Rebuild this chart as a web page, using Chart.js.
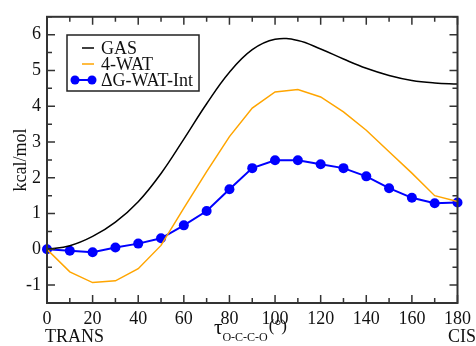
<!DOCTYPE html>
<html><head><meta charset="utf-8">
<script src="https://cdn.jsdelivr.net/npm/chart.js@4/dist/chart.umd.min.js"></script>
<style>html,body{margin:0;padding:0;background:#fff}#wrap{width:476px;height:346px}</style>
</head><body><div id="wrap"><canvas id="c" width="476" height="346"></canvas></div>
<script>
const angles = [0,10,20,30,40,50,60,70,80,90,100,110,120,130,140,150,160,170,180];
const gas    = [0,0.1,0.36,0.76,1.33,2.12,3.08,4.07,4.95,5.58,5.87,5.84,5.6,5.32,5.06,4.86,4.72,4.65,4.62];
const wat4   = [0,-0.63,-0.93,-0.88,-0.54,0.11,1.15,2.17,3.15,3.95,4.4,4.47,4.26,3.84,3.33,2.73,2.13,1.5,1.34];
const dgWat  = [0,-0.04,-0.08,0.05,0.16,0.31,0.67,1.07,1.68,2.27,2.49,2.49,2.38,2.27,2.04,1.71,1.44,1.29,1.31];
const yTicks = [-1,0,1,2,3,4,5,6];
const labels = ['GAS','4-WAT','\u0394G-WAT-Int'];

const SERIF = '"Liberation Serif","DejaVu Serif",serif';
const pts = a => a.map((v,i)=>({x:angles[i],y:v}));

const deco = {
  id:'deco',
  afterDraw(chart){
    const {ctx, chartArea:ca, scales:{x,y}} = chart;
    ctx.save();
    ctx.strokeStyle='#333'; ctx.lineWidth=1.5;
    for(let v=0; v<=180; v+=10){
      const px=x.getPixelForValue(v), L=(v%20===0)?8:5;
      ctx.beginPath();
      ctx.moveTo(px,ca.bottom); ctx.lineTo(px,ca.bottom-L);
      ctx.moveTo(px,ca.top); ctx.lineTo(px,ca.top+L);
      ctx.stroke();
    }
    for(let v=-1.5; v<=6.5; v+=0.5){
      const py=y.getPixelForValue(v), L=(Math.abs(v%1)<1e-9)?8:5;
      ctx.beginPath();
      ctx.moveTo(ca.left,py); ctx.lineTo(ca.left+L,py);
      ctx.moveTo(ca.right,py); ctx.lineTo(ca.right-L,py);
      ctx.stroke();
    }
    ctx.lineWidth=2;
    ctx.strokeRect(ca.left,ca.top,ca.right-ca.left,ca.bottom-ca.top);
    // legend
    const bx=67, by=35, bw=132, bh=56;
    ctx.fillStyle='#fff'; ctx.fillRect(bx,by,bw,bh);
    ctx.lineWidth=1.5; ctx.strokeStyle='#222'; ctx.strokeRect(bx,by,bw,bh);
    ctx.font='18px '+SERIF; ctx.textBaseline='middle'; ctx.textAlign='left';
    chart.data.datasets.forEach((ds,i)=>{
      const ly=by+13+i*16;
      ctx.strokeStyle=ds.borderColor; ctx.lineWidth=ds.borderWidth;
      ctx.beginPath();
      if(ds.pointRadius>0){ ctx.moveTo(75,ly); ctx.lineTo(92,ly); }
      else { ctx.moveTo(82,ly); ctx.lineTo(94,ly); }
      ctx.stroke();
      if(ds.pointRadius>0){
        ctx.fillStyle=ds.pointBackgroundColor;
        [75,92].forEach(px=>{ctx.beginPath();ctx.arc(px,ly,4.5,0,Math.PI*2);ctx.fill();});
      }
      ctx.fillStyle='#111';
      ctx.fillText(ds.label,101,ly+1);
    });
    ctx.fillStyle='#111';
    ctx.save();
    ctx.translate(26,160);
    ctx.rotate(-Math.PI/2);
    ctx.textAlign='center'; ctx.textBaseline='alphabetic'; ctx.font='18px '+SERIF;
    ctx.fillText('kcal/mol',0,0);
    ctx.restore();
    ctx.textBaseline='alphabetic'; ctx.textAlign='left';
    ctx.font='18px '+SERIF;
    ctx.fillText('TRANS',45,342);
    ctx.textAlign='right';
    ctx.fillText('CIS',476,342);
    ctx.textAlign='left';
    let tx=214;
    ctx.font='21px '+SERIF; ctx.fillText('\u03C4',tx,334); tx+=ctx.measureText('\u03C4').width;
    ctx.font='12px '+SERIF; ctx.fillText('O-C-C-O',tx,341); tx+=ctx.measureText('O-C-C-O').width+1;
    ctx.font='17px '+SERIF; ctx.fillText('(\u00B0)',tx,331);
    ctx.restore();
  }
};

new Chart(document.getElementById('c'),{
  type:'line',
  data:{datasets:[
    {label:labels[0],data:pts(gas),borderColor:'#000',borderWidth:1.5,pointRadius:0,tension:0.4,fill:false},
    {label:labels[1],data:pts(wat4),borderColor:'#ffa500',borderWidth:1.5,pointRadius:0,tension:0,fill:false},
    {label:labels[2],data:pts(dgWat),borderColor:'#0000ff',borderWidth:2,pointRadius:5,pointBackgroundColor:'#0000ff',pointBorderColor:'#0000ff',pointBorderWidth:0,tension:0,fill:false,clip:false}
  ]},
  options:{
    responsive:false, animation:false, devicePixelRatio:1,
    layout:{padding:{top:15,right:14,left:0,bottom:0}},
    plugins:{legend:{display:false},tooltip:{enabled:false}},
    scales:{
      x:{type:'linear',min:0,max:180,
        grid:{display:false,drawTicks:false},border:{display:false},
        ticks:{stepSize:20,color:'#111',font:{family:SERIF,size:18},padding:5,maxRotation:0},
        afterFit(s){s.height=43;}
      },
      y:{type:'linear',min:-1.5,max:6.5,
        grid:{display:false,drawTicks:false},border:{display:false},
        afterBuildTicks(s){s.ticks=yTicks.map(v=>({value:v}));},
        ticks:{color:'#111',font:{family:SERIF,size:18},padding:6},
        afterFit(s){s.width=47;}
      }
    }
  },
  plugins:[deco]
});
</script></body></html>
